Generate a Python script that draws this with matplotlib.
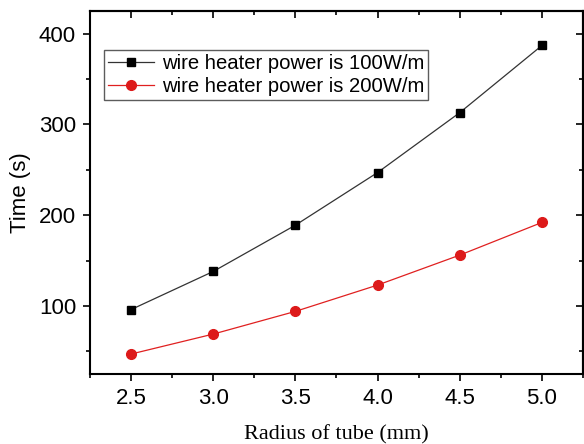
import matplotlib
matplotlib.use("Agg")
import matplotlib.pyplot as plt
from matplotlib.ticker import MultipleLocator, FormatStrFormatter

radius = [2.5, 3.0, 3.5, 4.0, 4.5, 5.0]
time_100 = [96, 138, 189, 247, 313, 387]
time_200 = [47, 69, 94, 123, 156, 192]
labels = ["wire heater power is 100W/m", "wire heater power is 200W/m"]

plt.rcParams['font.family'] = ['Liberation Sans', 'DejaVu Sans']

fig = plt.figure(figsize=(5.84, 4.44), dpi=100)
ax = fig.add_axes([90/584, 1-374/444, (583-90)/584, (374-11)/444])

ax.plot(radius, time_100, color='#333333', lw=0.9, marker='s', ms=6,
        mfc='black', mec='black', label=labels[0])
ax.plot(radius, time_200, color='#e02020', lw=0.9, marker='o', ms=7,
        mfc='#dd1a1a', mec='#dd1a1a', label=labels[1])

ax.set_xlim(2.25, 5.25)
ax.set_ylim(25, 425)
ax.xaxis.set_major_locator(MultipleLocator(0.5))
ax.xaxis.set_minor_locator(MultipleLocator(0.25))
ax.yaxis.set_major_locator(MultipleLocator(100))
ax.yaxis.set_minor_locator(MultipleLocator(50))
ax.xaxis.set_major_formatter(FormatStrFormatter('%.1f'))

ax.tick_params(which='both', direction='out', top=False, right=False, labelsize=16, width=1.2)
ax.tick_params(which='major', length=5, pad=5)
ax.tick_params(which='minor', length=3)
for s in ax.spines.values():
    s.set_linewidth(1.5)

# mirrored inward ticks on top/right
axt = ax.secondary_xaxis('top')
axt.xaxis.set_major_locator(MultipleLocator(0.5))
axt.xaxis.set_minor_locator(MultipleLocator(0.25))
axt.tick_params(which='both', direction='in', labeltop=False, width=1.2)
axt.tick_params(which='major', length=5)
axt.tick_params(which='minor', length=3)
axr = ax.secondary_yaxis('right')
axr.yaxis.set_major_locator(MultipleLocator(100))
axr.yaxis.set_minor_locator(MultipleLocator(50))
axr.tick_params(which='both', direction='in', labelright=False, width=1.2)
axr.tick_params(which='major', length=5)
axr.tick_params(which='minor', length=3)
axt.spines['top'].set_linewidth(1.5)
axr.spines['right'].set_linewidth(1.5)

ax.set_xlabel("Radius of tube (mm)", family=['Liberation Serif'], fontsize=16, labelpad=12)
ax.set_ylabel("Time (s)", fontsize=16, labelpad=6)

leg = ax.legend(loc='upper left', bbox_to_anchor=(0.028, 0.893), fontsize=14.6,
                frameon=True, fancybox=False, edgecolor='#333333',
                handlelength=2.3, borderpad=0.2, labelspacing=0.2, handletextpad=0.35,
                borderaxespad=0)
leg.get_frame().set_linewidth(1.0)

fig.savefig("out.png", dpi=100)
